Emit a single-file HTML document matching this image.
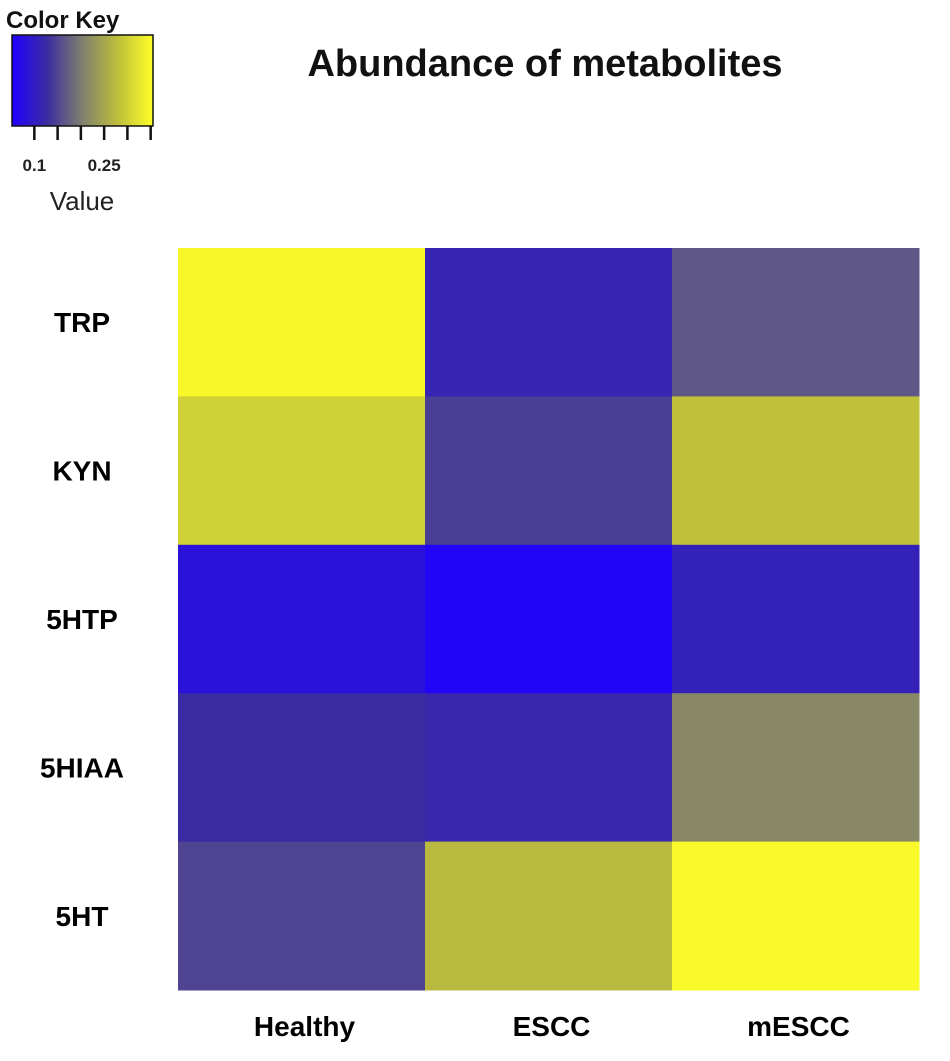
<!DOCTYPE html>
<html><head><meta charset="utf-8"><style>
body{margin:0;background:#fff;font-family:"Liberation Sans",Arial,sans-serif;}
</style></head><body>
<svg width="950" height="1056" viewBox="0 0 950 1056" xmlns="http://www.w3.org/2000/svg">
<defs>
<linearGradient id="kg" x1="0" x2="1" y1="0" y2="0">
<stop offset="0" stop-color="#2000ff"/><stop offset="0.25" stop-color="#3c2da0"/>
<stop offset="0.5" stop-color="#80806e"/><stop offset="0.75" stop-color="#bebe3c"/>
<stop offset="1" stop-color="#ffff28"/>
</linearGradient>
</defs>
<text x="6" y="28" font-size="24" font-weight="bold" fill="#111">Color Key</text>
<rect x="12" y="35" width="141" height="91" fill="url(#kg)" stroke="#111" stroke-width="1.5"/>
<g id="keyticks"></g>
<text x="82" y="210" font-size="26" text-anchor="middle" fill="#222">Value</text>
<text x="545" y="76" font-size="38" font-weight="bold" text-anchor="middle" fill="#111">Abundance of metabolites</text>
<g id="cells"></g>
<g id="labels"></g>
</svg>
<script>
const rows=["TRP","KYN","5HTP","5HIAA","5HT"];
const cols=["Healthy","ESCC","mESCC"];
const values=[
 [0.346,0.113,0.167],
 [0.300,0.143,0.282],
 [0.082,0.058,0.107],
 [0.125,0.119,0.213],
 [0.149,0.273,0.349]
];
const keyTicks=[0.1,0.15,0.2,0.25,0.3,0.35];
const keyLabels=["0.1","","","0.25","",""];
const vmin=0.052,vmax=0.355;
const NS="http://www.w3.org/2000/svg";
const stops=[[0,[32,0,255]],[0.25,[60,45,160]],[0.5,[128,128,110]],[0.75,[190,190,60]],[1,[255,255,40]]];
function col(v){let t=Math.max(0,Math.min(1,(v-vmin)/(vmax-vmin)));
 for(let i=0;i<stops.length-1;i++){const a=stops[i],b=stops[i+1];if(t<=b[0]){const f=(t-a[0])/(b[0]-a[0]);
 return "rgb("+a[1].map((c,j)=>Math.round(c+(b[1][j]-c)*f)).join(",")+")";}}return "rgb(255,255,40)";}
const X0=178,Y0=248,CW=247,RH=148.4;
const kx=v=>12+(v-vmin)/(vmax-vmin)*141;
const cells=document.getElementById('cells'),labels=document.getElementById('labels'),kt=document.getElementById('keyticks');
values.forEach((r,i)=>r.forEach((v,j)=>{const e=document.createElementNS(NS,'rect');
 e.setAttribute('x',X0+j*CW);e.setAttribute('y',Y0+i*RH);e.setAttribute('width',CW+0.5);e.setAttribute('height',RH+0.5);e.setAttribute('fill',col(v));
 
 
 cells.appendChild(e);}));
rows.forEach((r,i)=>{const t=document.createElementNS(NS,'text');t.setAttribute('x',82);t.setAttribute('y',Y0+i*RH+RH/2+10);
 t.setAttribute('font-size','28');t.setAttribute('font-weight','bold');t.setAttribute('text-anchor','middle');t.textContent=r;
 
 
 labels.appendChild(t);});
cols.forEach((c,j)=>{const t=document.createElementNS(NS,'text');t.setAttribute('x',X0+j*CW+CW/2+3);t.setAttribute('y',1036);
 t.setAttribute('font-size','28');t.setAttribute('font-weight','bold');t.setAttribute('text-anchor','middle');t.textContent=c;
 
 
 labels.appendChild(t);});
keyTicks.forEach((v,i)=>{const x=kx(v);const l=document.createElementNS(NS,'line');
 l.setAttribute('x1',x);l.setAttribute('x2',x);l.setAttribute('y1',126);l.setAttribute('y2',140);l.setAttribute('stroke','#111');l.setAttribute('stroke-width','2.5');
 
 
 kt.appendChild(l);
 if(keyLabels[i]){const t=document.createElementNS(NS,'text');t.setAttribute('x',x);t.setAttribute('y',171);t.setAttribute('font-size','17');t.setAttribute('font-weight','bold');t.setAttribute('text-anchor','middle');t.setAttribute('fill','#222');t.textContent=keyLabels[i];
 
 
 kt.appendChild(t);}});
</script>
</body></html>
